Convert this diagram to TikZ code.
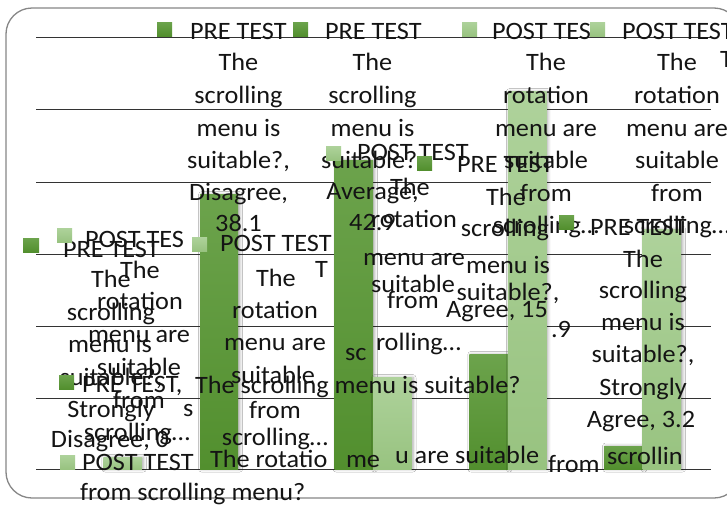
\documentclass[tikz,border=0pt]{standalone}
\usepackage{fontspec}
\setmainfont{Carlito}[FakeStretch=1.05]
\usetikzlibrary{shadows.blur}
\definecolor{preTop}{RGB}{108,163,76}
\definecolor{preBot}{RGB}{82,143,46}
\definecolor{postTop}{RGB}{174,210,155}
\definecolor{postBot}{RGB}{152,195,128}
\definecolor{frameC}{RGB}{135,135,135}
\newcounter{tno}
\newcommand\Ctx[3]{\stepcounter{tno}\node[txt] (t\arabic{tno}) at (#1,#2) {#3};}
\newcommand\Ltx[3]{\stepcounter{tno}\node[txtl] (t\arabic{tno}) at (#1,#2) {#3};}
\begin{document}
\begin{tikzpicture}[x=1pt,y=-1pt,
  txt/.style={anchor=base,inner sep=0pt,outer sep=0pt,font=\fontsize{25}{30}\selectfont,text=black!92},
  txtl/.style={txt,anchor=base west},
  gridline/.style={black!80,line width=0.9pt},
  barshadow/.style={blur shadow={shadow xshift=1.5pt,shadow yshift=0pt,shadow blur radius=3pt,shadow opacity=35}},
  prebar/.style={draw=none,top color=preTop,bottom color=preBot,barshadow},
  postbar/.style={draw=none,top color=postTop,bottom color=postBot,barshadow},
  presq/.style={draw=none,top color=preTop,bottom color=preBot,minimum width=15pt,minimum height=14pt,inner sep=0pt,outer sep=0pt,anchor=north west},
  postsq/.style={presq,top color=postTop,bottom color=postBot}
]
\useasboundingbox (0,0) rectangle (727,504);
\clip (0,0) rectangle (727,504);
\fill[white] (0,0) rectangle (727,504);
% frame
\draw[frameC,line width=1.3pt,rounded corners=26pt] (6,8) rectangle (740,498);
% gridlines
\foreach \yy in {37,109.5,182,254,326,398,469}
  \draw[gridline] (36,\yy) -- (711,\yy);
% bars PRE
\fill[prebar] (200,194.7) rectangle (238.2,469);
\fill[prebar] (334.5,160.1) rectangle (373,469);
\fill[prebar] (469.3,354.5) rectangle (507.8,469);
\fill[prebar] (604.1,446) rectangle (642.6,469);
% bars POST
\fill[postbar] (103.4,457.5) rectangle (141.9,469);
\fill[postbar] (373,377.6) rectangle (411.5,469);
\fill[postbar] (507.8,91.7) rectangle (546.3,469);
\fill[postbar] (642.6,229.2) rectangle (681.1,469);

% ---- top headers
\Ltx{190}{39.5}{PRE TEST}
\Ltx{325}{39.5}{PRE TEST}
\Ltx{492}{39.5}{POST TES}
\Ltx{622}{39.5}{POST TEST}
\Ltx{720}{67}{T}
% label A
\Ctx{238.5}{70}{The}
\Ctx{238.5}{103}{scrolling}
\Ctx{238.5}{136}{menu is}
\Ctx{238.5}{168}{suitable?,}
\Ctx{238.5}{200}{Disagree,}
\Ctx{238.5}{231}{38.1}
% label B
\Ctx{372.5}{70}{The}
\Ctx{372.5}{103}{scrolling}
\Ctx{372.5}{136}{menu is}
\Ctx{372.5}{168}{suitable?,}
\Ctx{372.5}{199}{Average,}
\Ctx{372.5}{230}{42.9}
% label C
\Ctx{546}{70}{The}
\Ctx{546}{103}{rotation}
\Ctx{546}{136}{menu are}
\Ctx{546}{168}{suitable}
\Ctx{546}{201}{from}
\Ctx{546}{233}{scrolling…}
% label D
\Ctx{677}{70}{The}
\Ctx{677}{103}{rotation}
\Ctx{677}{136}{menu are}
\Ctx{677}{168}{suitable}
\Ctx{677}{201}{from}
\Ctx{677}{233}{scrolling…}
% label E
\Ltx{357}{160}{POST TEST}
\Ctx{410}{195}{The}
\Ctx{414}{227}{rotation}
\Ctx{414}{265}{menu are}
\Ctx{413}{292}{suitable}
\Ctx{413}{308}{from}
\Ltx{376}{350}{rolling…}
\Ltx{345}{360}{sc}
% label F
\Ltx{457}{172}{PRE TEST}
\Ctx{506}{205}{The}
\Ctx{505}{236}{scrolling}
\Ctx{508}{273}{menu is}
\Ctx{508}{300}{suitable?,}
\Ctx{497}{317}{Agree, 15}
\Ltx{551}{337}{.9}
% label G
\Ltx{590}{235}{PRE TEST}
\Ctx{643}{267}{The}
\Ctx{643}{298}{scrolling}
\Ctx{643}{330}{menu is}
\Ctx{643}{362}{suitable?,}
\Ctx{643}{395}{Strongly}
\Ctx{641}{427}{Agree, 3.2}
% label H-POST
\Ltx{85}{247}{POST TES}
\Ctx{140}{278}{The}
\Ctx{140}{309}{rotation}
\Ctx{139}{342}{menu are}
\Ctx{139}{375}{suitable}
\Ctx{139}{408}{from}
\Ctx{137}{440}{scrolling…}
% label H-PRE
\Ltx{63}{257}{PRE TEST}
\Ctx{111}{287}{The}
\Ctx{111}{320}{scrolling}
\Ctx{110}{352}{menu is}
\Ctx{111}{385}{suitable?,}
\Ctx{111}{417}{Strongly}
\Ctx{110}{447}{Disagree, 0}
% label POST-Disagree
\Ltx{220}{251}{POST TEST}
\Ctx{276}{286}{The}
\Ctx{275}{318}{rotation}
\Ctx{275}{350}{menu are}
\Ctx{273}{383}{suitable}
\Ctx{275}{418}{from}
\Ctx{275}{445}{scrolling…}
% fragments
\Ltx{315}{277}{T}
\Ltx{183}{416}{s}
% legend rows
\Ltx{82}{392}{PRE TEST,}
\Ltx{195}{393}{The scrolling menu is suitable?}
\Ltx{82}{470}{POST TEST}
\Ltx{210}{467}{The rotatio}
\Ltx{346}{467}{me}
\Ltx{395}{463}{u are suitable}
\Ltx{548}{472}{from}
\Ltx{607}{464}{scrollin}
\Ltx{80}{500}{from scrolling menu?}

% legend keys
\node[presq] (k1) at (157,22) {};
\node[presq] (k2) at (293,22) {};
\node[postsq] (k3) at (462,22) {};
\node[postsq] (k4) at (590,22) {};
\node[postsq] (k5) at (326,146) {};
\node[presq] (k6) at (417,156) {};
\node[presq] (k7) at (559,215) {};
\node[postsq] (k8) at (57,228) {};
\node[presq,minimum width=16pt] (k9) at (23,238) {};
\node[postsq] (k10) at (192,237) {};
\node[presq] (k11) at (59,375) {};
\node[postsq] (k12) at (60,455) {};
\end{tikzpicture}
\end{document}
